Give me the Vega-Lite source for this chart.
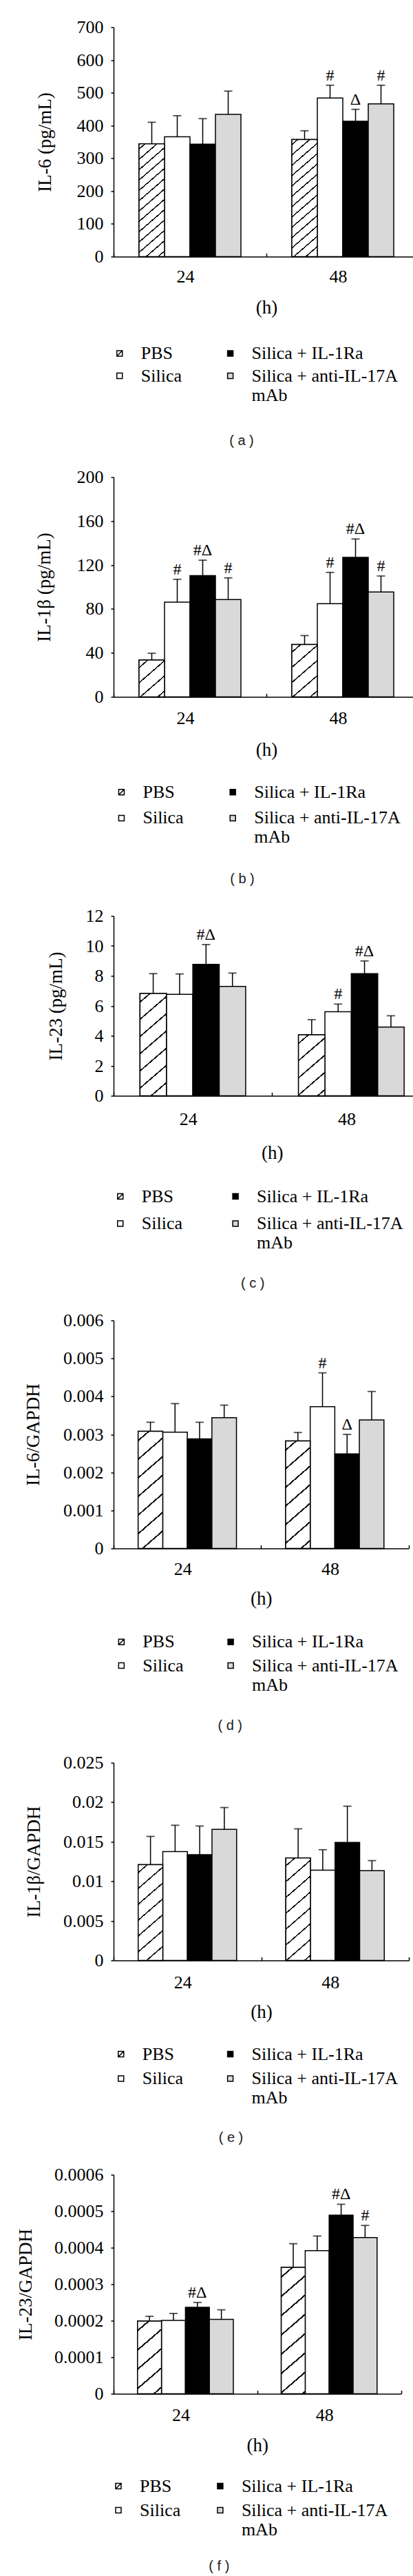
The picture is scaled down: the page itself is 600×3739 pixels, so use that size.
{
"$schema": "https://vega.github.io/schema/vega-lite/v6.json",
"background": "white",
"padding": {"left": 23, "top": 26.5, "right": 0, "bottom": 0},
"columns": 1,
"align": "none",
"spacing": 30,
"resolve": {"scale": {"x": "independent", "y": "independent", "xOffset": "independent", "fill": "independent"}, "legend": {"fill": "independent"}, "axis": {"x": "independent", "y": "independent"}},
"config": {
  "view": {"stroke": null},
  "axis": {"labelFont": "Liberation Serif", "labelFontSize": 26, "labelColor": "#000", "titleFont": "Liberation Serif", "titleFontSize": 27, "titleFontWeight": "normal", "titleColor": "#000", "domainColor": "#000", "domainWidth": 1.5, "tickColor": "#000", "tickWidth": 1.5, "grid": false},
  "axisX": {"labelAngle": 0, "tickSize": -5, "tickBand": "extent", "labelOffset": -7, "titleBaseline": "middle"},
  "axisY": {"tickSize": 4, "labelPadding": 11, "titleAngle": -90, "titleBaseline": "middle", "titleAlign": "center"},
  "legend": {"orient": "none", "columns": 2, "symbolType": "square", "symbolSize": 64, "symbolStrokeColor": "#000", "symbolStrokeWidth": 1.5, "labelFont": "Liberation Serif", "labelFontSize": 26, "labelColor": "#000", "labelOffset": 18, "labelLimit": 400, "padding": 0, "labelBaseline": "middle"},
  "title": {"font": "Liberation Sans", "fontSize": 20, "fontWeight": "normal", "color": "#222", "orient": "bottom", "anchor": "middle", "frame": "group"}
},
"datasets": {
  "a": [
    {"time":"24","group":"PBS","mean":344,"err":410,"sig":""},
    {"time":"24","group":"Silica","mean":366,"err":430,"sig":""},
    {"time":"24","group":"Silica + IL-1Ra","mean":343,"err":421,"sig":""},
    {"time":"24","group":"Silica + anti-IL-17A mAb","mean":434,"err":505,"sig":""},
    {"time":"48","group":"PBS","mean":357.5,"err":384,"sig":""},
    {"time":"48","group":"Silica","mean":484,"err":523,"sig":"#"},
    {"time":"48","group":"Silica + IL-1Ra","mean":413,"err":449.5,"sig":"Δ"},
    {"time":"48","group":"Silica + anti-IL-17A mAb","mean":466,"err":523,"sig":"#"}
  ],
  "b": [
    {"time":"24","group":"PBS","mean":33.5,"err":39.7,"sig":""},
    {"time":"24","group":"Silica","mean":86.2,"err":107,"sig":"#"},
    {"time":"24","group":"Silica + IL-1Ra","mean":110.3,"err":124.4,"sig":"#Δ"},
    {"time":"24","group":"Silica + anti-IL-17A mAb","mean":88.5,"err":108.3,"sig":"#"},
    {"time":"48","group":"PBS","mean":47.6,"err":55.8,"sig":""},
    {"time":"48","group":"Silica","mean":84.8,"err":113.3,"sig":"#"},
    {"time":"48","group":"Silica + IL-1Ra","mean":126.9,"err":143.7,"sig":"#Δ"},
    {"time":"48","group":"Silica + anti-IL-17A mAb","mean":95.4,"err":110,"sig":"#"}
  ],
  "c": [
    {"time":"24","group":"PBS","mean":6.83,"err":8.15,"sig":""},
    {"time":"24","group":"Silica","mean":6.77,"err":8.13,"sig":""},
    {"time":"24","group":"Silica + IL-1Ra","mean":8.77,"err":10.09,"sig":"#Δ"},
    {"time":"24","group":"Silica + anti-IL-17A mAb","mean":7.3,"err":8.19,"sig":""},
    {"time":"48","group":"PBS","mean":4.07,"err":5.08,"sig":""},
    {"time":"48","group":"Silica","mean":5.61,"err":6.12,"sig":"#"},
    {"time":"48","group":"Silica + IL-1Ra","mean":8.15,"err":9.0,"sig":"#Δ"},
    {"time":"48","group":"Silica + anti-IL-17A mAb","mean":4.59,"err":5.34,"sig":""}
  ],
  "d": [
    {"time":"24","group":"PBS","mean":0.00308,"err":0.00332,"sig":""},
    {"time":"24","group":"Silica","mean":0.00306,"err":0.00381,"sig":""},
    {"time":"24","group":"Silica + IL-1Ra","mean":0.00288,"err":0.00332,"sig":""},
    {"time":"24","group":"Silica + anti-IL-17A mAb","mean":0.00344,"err":0.00377,"sig":""},
    {"time":"48","group":"PBS","mean":0.00283,"err":0.00305,"sig":""},
    {"time":"48","group":"Silica","mean":0.00373,"err":0.00462,"sig":"#"},
    {"time":"48","group":"Silica + IL-1Ra","mean":0.00249,"err":0.003,"sig":"Δ"},
    {"time":"48","group":"Silica + anti-IL-17A mAb","mean":0.00338,"err":0.00413,"sig":""}
  ],
  "e": [
    {"time":"24","group":"PBS","mean":0.0121,"err":0.01568,"sig":""},
    {"time":"24","group":"Silica","mean":0.01376,"err":0.01709,"sig":""},
    {"time":"24","group":"Silica + IL-1Ra","mean":0.01338,"err":0.01699,"sig":""},
    {"time":"24","group":"Silica + anti-IL-17A mAb","mean":0.01657,"err":0.01933,"sig":""},
    {"time":"48","group":"PBS","mean":0.01296,"err":0.01664,"sig":""},
    {"time":"48","group":"Silica","mean":0.01142,"err":0.014,"sig":""},
    {"time":"48","group":"Silica + IL-1Ra","mean":0.01492,"err":0.0195,"sig":""},
    {"time":"48","group":"Silica + anti-IL-17A mAb","mean":0.01135,"err":0.01262,"sig":""}
  ],
  "f": [
    {"time":"24","group":"PBS","mean":0.000199,"err":0.000212,"sig":""},
    {"time":"24","group":"Silica","mean":0.000201,"err":0.00022,"sig":""},
    {"time":"24","group":"Silica + IL-1Ra","mean":0.000237,"err":0.00025,"sig":"#Δ"},
    {"time":"24","group":"Silica + anti-IL-17A mAb","mean":0.000204,"err":0.00023,"sig":""},
    {"time":"48","group":"PBS","mean":0.000346,"err":0.000411,"sig":""},
    {"time":"48","group":"Silica","mean":0.000392,"err":0.000432,"sig":""},
    {"time":"48","group":"Silica + IL-1Ra","mean":0.000489,"err":0.000519,"sig":"#Δ"},
    {"time":"48","group":"Silica + anti-IL-17A mAb","mean":0.000428,"err":0.000461,"sig":"#"}
  ]
},
"concat": [
{
  "width": 444, "height": 333,
  "data": {"name": "a"},
  "title": {"text": "( a )", "dx": -36, "offset": 42.5},
  "encoding": {
    "x": {"field": "time", "type": "nominal", "scale": {"domain": ["24","48"], "paddingInner": 0, "paddingOuter": 0}, "axis": {"title": "(h)", "titleY": 74, "labelPadding": 21.3}},
    "xOffset": {"field": "group", "type": "nominal", "scale": {"domain": ["PBS","Silica","Silica + IL-1Ra","Silica + anti-IL-17A mAb"], "paddingInner": 0, "paddingOuter": 1.47}},
    "y": {"field": "mean", "type": "quantitative", "scale": {"domain": [0,700], "nice": false}, "axis": {"title": "IL-6 (pg/mL)", "values": [0,100,200,300,400,500,600,700], "format": "~f", "titleX": -100}}
  },
  "layer": [
    {"mark": {"type": "bar", "stroke": "#000", "strokeWidth": 1.5},
     "encoding": {"fill": {"field": "group", "type": "nominal", "scale": {"domain": ["PBS","Silica","Silica + IL-1Ra","Silica + anti-IL-17A mAb"], "range": ["#fff","#fff","#000","#d9d9d9"]},
       "legend": {"title": null, "orient": "none", "legendX": -4.25, "legendY": 460.5, "columnPadding": 56.85, "rowPadding": 6.5,
         "labelExpr": "datum.label == 'Silica + anti-IL-17A mAb' ? ['Silica + anti-IL-17A', 'mAb'] : datum.label",
         "encode": {"symbols": {"update": {"shape": {"signal": "datum.value === 'PBS' ? 'M-1,-1H1V1H-1Z M-1,1L1,-1' : 'square'"}, "stroke": {"value": "#000"}}}}}}}},
    {"transform": [{"filter": "datum.group === 'PBS' && datum.time === '24'"}],
     "mark": {"type": "bar", "stroke": "#000", "strokeWidth": 1.5, "fill": {"gradient": "linear", "x1": 0, "y1": 0, "x2": 0.2418, "y2": 1.2363, "stops": [{"offset":0.0307,"color":"#fff"},{"offset":0.0307,"color":"#111"},{"offset":0.0407,"color":"#111"},{"offset":0.0407,"color":"#fff"},{"offset":0.1021,"color":"#fff"},{"offset":0.1021,"color":"#111"},{"offset":0.1121,"color":"#111"},{"offset":0.1121,"color":"#fff"},{"offset":0.1736,"color":"#fff"},{"offset":0.1736,"color":"#111"},{"offset":0.1836,"color":"#111"},{"offset":0.1836,"color":"#fff"},{"offset":0.245,"color":"#fff"},{"offset":0.245,"color":"#111"},{"offset":0.255,"color":"#111"},{"offset":0.255,"color":"#fff"},{"offset":0.3164,"color":"#fff"},{"offset":0.3164,"color":"#111"},{"offset":0.3264,"color":"#111"},{"offset":0.3264,"color":"#fff"},{"offset":0.3879,"color":"#fff"},{"offset":0.3879,"color":"#111"},{"offset":0.3979,"color":"#111"},{"offset":0.3979,"color":"#fff"},{"offset":0.4593,"color":"#fff"},{"offset":0.4593,"color":"#111"},{"offset":0.4693,"color":"#111"},{"offset":0.4693,"color":"#fff"},{"offset":0.5307,"color":"#fff"},{"offset":0.5307,"color":"#111"},{"offset":0.5407,"color":"#111"},{"offset":0.5407,"color":"#fff"},{"offset":0.6021,"color":"#fff"},{"offset":0.6021,"color":"#111"},{"offset":0.6121,"color":"#111"},{"offset":0.6121,"color":"#fff"},{"offset":0.6736,"color":"#fff"},{"offset":0.6736,"color":"#111"},{"offset":0.6836,"color":"#111"},{"offset":0.6836,"color":"#fff"},{"offset":0.745,"color":"#fff"},{"offset":0.745,"color":"#111"},{"offset":0.755,"color":"#111"},{"offset":0.755,"color":"#fff"},{"offset":0.8164,"color":"#fff"},{"offset":0.8164,"color":"#111"},{"offset":0.8264,"color":"#111"},{"offset":0.8264,"color":"#fff"},{"offset":0.8879,"color":"#fff"},{"offset":0.8879,"color":"#111"},{"offset":0.8979,"color":"#111"},{"offset":0.8979,"color":"#fff"},{"offset":0.9593,"color":"#fff"},{"offset":0.9593,"color":"#111"},{"offset":0.9693,"color":"#111"},{"offset":0.9693,"color":"#fff"}]}}},
    {"transform": [{"filter": "datum.group === 'PBS' && datum.time === '48'"}],
     "mark": {"type": "bar", "stroke": "#000", "strokeWidth": 1.5, "fill": {"gradient": "linear", "x1": 0, "y1": 0, "x2": 0.2243, "y2": 1.1924, "stops": [{"offset":0.0307,"color":"#fff"},{"offset":0.0307,"color":"#111"},{"offset":0.0407,"color":"#111"},{"offset":0.0407,"color":"#fff"},{"offset":0.1021,"color":"#fff"},{"offset":0.1021,"color":"#111"},{"offset":0.1121,"color":"#111"},{"offset":0.1121,"color":"#fff"},{"offset":0.1736,"color":"#fff"},{"offset":0.1736,"color":"#111"},{"offset":0.1836,"color":"#111"},{"offset":0.1836,"color":"#fff"},{"offset":0.245,"color":"#fff"},{"offset":0.245,"color":"#111"},{"offset":0.255,"color":"#111"},{"offset":0.255,"color":"#fff"},{"offset":0.3164,"color":"#fff"},{"offset":0.3164,"color":"#111"},{"offset":0.3264,"color":"#111"},{"offset":0.3264,"color":"#fff"},{"offset":0.3879,"color":"#fff"},{"offset":0.3879,"color":"#111"},{"offset":0.3979,"color":"#111"},{"offset":0.3979,"color":"#fff"},{"offset":0.4593,"color":"#fff"},{"offset":0.4593,"color":"#111"},{"offset":0.4693,"color":"#111"},{"offset":0.4693,"color":"#fff"},{"offset":0.5307,"color":"#fff"},{"offset":0.5307,"color":"#111"},{"offset":0.5407,"color":"#111"},{"offset":0.5407,"color":"#fff"},{"offset":0.6021,"color":"#fff"},{"offset":0.6021,"color":"#111"},{"offset":0.6121,"color":"#111"},{"offset":0.6121,"color":"#fff"},{"offset":0.6736,"color":"#fff"},{"offset":0.6736,"color":"#111"},{"offset":0.6836,"color":"#111"},{"offset":0.6836,"color":"#fff"},{"offset":0.745,"color":"#fff"},{"offset":0.745,"color":"#111"},{"offset":0.755,"color":"#111"},{"offset":0.755,"color":"#fff"},{"offset":0.8164,"color":"#fff"},{"offset":0.8164,"color":"#111"},{"offset":0.8264,"color":"#111"},{"offset":0.8264,"color":"#fff"},{"offset":0.8879,"color":"#fff"},{"offset":0.8879,"color":"#111"},{"offset":0.8979,"color":"#111"},{"offset":0.8979,"color":"#fff"},{"offset":0.9593,"color":"#fff"},{"offset":0.9593,"color":"#111"},{"offset":0.9693,"color":"#111"},{"offset":0.9693,"color":"#fff"}]}}},
    {"mark": {"type": "rule", "color": "#000", "strokeWidth": 1.5}, "encoding": {"y2": {"field": "err"}}},
    {"mark": {"type": "tick", "color": "#000", "size": 12, "thickness": 1.8}, "encoding": {"y": {"field": "err", "type": "quantitative"}}},
    {"transform": [{"filter": "datum.sig !== ''"}], "mark": {"type": "text", "font": "Liberation Serif", "fontSize": 24, "baseline": "alphabetic", "dy": -7, "color": "#000"}, "encoding": {"y": {"field": "err", "type": "quantitative"}, "text": {"field": "sig", "type": "nominal"}}}
  ]
},
{
  "width": 444, "height": 319,
  "data": {"name": "b"},
  "title": {"text": "( b )", "dx": -35, "offset": 36.8},
  "encoding": {
    "x": {"field": "time", "type": "nominal", "scale": {"domain": ["24","48"], "paddingInner": 0, "paddingOuter": 0}, "axis": {"title": "(h)", "titleY": 77, "labelPadding": 22.8}},
    "xOffset": {"field": "group", "type": "nominal", "scale": {"domain": ["PBS","Silica","Silica + IL-1Ra","Silica + anti-IL-17A mAb"], "paddingInner": 0, "paddingOuter": 1.47}},
    "y": {"field": "mean", "type": "quantitative", "scale": {"domain": [0,200], "nice": false}, "axis": {"title": "IL-1β (pg/mL)", "values": [0,40,80,120,160,200], "format": "~f", "titleX": -101}}
  },
  "layer": [
    {"mark": {"type": "bar", "stroke": "#000", "strokeWidth": 1.5},
     "encoding": {"fill": {"field": "group", "type": "nominal", "scale": {"domain": ["PBS","Silica","Silica + IL-1Ra","Silica + anti-IL-17A mAb"], "range": ["#fff","#fff","#000","#d9d9d9"]},
       "legend": {"title": null, "orient": "none", "legendX": -1.55, "legendY": 444.3, "columnPadding": 57.75, "rowPadding": 11.6,
         "labelExpr": "datum.label == 'Silica + anti-IL-17A mAb' ? ['Silica + anti-IL-17A', 'mAb'] : datum.label",
         "encode": {"symbols": {"update": {"shape": {"signal": "datum.value === 'PBS' ? 'M-1,-1H1V1H-1Z M-1,1L1,-1' : 'square'"}, "stroke": {"value": "#000"}}}}}}}},
    {"transform": [{"filter": "datum.group === 'PBS' && datum.time === '24'"}],
     "mark": {"type": "bar", "stroke": "#000", "strokeWidth": 1.5, "fill": {"gradient": "linear", "x1": 0, "y1": 0, "x2": 0.9083, "y2": 1.5156, "stops": [{"offset":0.09,"color":"#fff"},{"offset":0.09,"color":"#111"},{"offset":0.11,"color":"#111"},{"offset":0.11,"color":"#fff"},{"offset":0.29,"color":"#fff"},{"offset":0.29,"color":"#111"},{"offset":0.31,"color":"#111"},{"offset":0.31,"color":"#fff"},{"offset":0.49,"color":"#fff"},{"offset":0.49,"color":"#111"},{"offset":0.51,"color":"#111"},{"offset":0.51,"color":"#fff"},{"offset":0.69,"color":"#fff"},{"offset":0.69,"color":"#111"},{"offset":0.71,"color":"#111"},{"offset":0.71,"color":"#fff"},{"offset":0.89,"color":"#fff"},{"offset":0.89,"color":"#111"},{"offset":0.91,"color":"#111"},{"offset":0.91,"color":"#fff"}]}}},
    {"transform": [{"filter": "datum.group === 'PBS' && datum.time === '48'"}],
     "mark": {"type": "bar", "stroke": "#000", "strokeWidth": 1.5, "fill": {"gradient": "linear", "x1": 0, "y1": 0, "x2": 0.5188, "y2": 1.2305, "stops": [{"offset":0.09,"color":"#fff"},{"offset":0.09,"color":"#111"},{"offset":0.11,"color":"#111"},{"offset":0.11,"color":"#fff"},{"offset":0.29,"color":"#fff"},{"offset":0.29,"color":"#111"},{"offset":0.31,"color":"#111"},{"offset":0.31,"color":"#fff"},{"offset":0.49,"color":"#fff"},{"offset":0.49,"color":"#111"},{"offset":0.51,"color":"#111"},{"offset":0.51,"color":"#fff"},{"offset":0.69,"color":"#fff"},{"offset":0.69,"color":"#111"},{"offset":0.71,"color":"#111"},{"offset":0.71,"color":"#fff"},{"offset":0.89,"color":"#fff"},{"offset":0.89,"color":"#111"},{"offset":0.91,"color":"#111"},{"offset":0.91,"color":"#fff"}]}}},
    {"mark": {"type": "rule", "color": "#000", "strokeWidth": 1.5}, "encoding": {"y2": {"field": "err"}}},
    {"mark": {"type": "tick", "color": "#000", "size": 12, "thickness": 1.8}, "encoding": {"y": {"field": "err", "type": "quantitative"}}},
    {"transform": [{"filter": "datum.sig !== ''"}], "mark": {"type": "text", "font": "Liberation Serif", "fontSize": 24, "baseline": "alphabetic", "dy": -7, "color": "#000"}, "encoding": {"y": {"field": "err", "type": "quantitative"}, "text": {"field": "sig", "type": "nominal"}}}
  ]
},
{
  "width": 460.5, "height": 261,
  "data": {"name": "c"},
  "title": {"text": "( c )", "dx": -28, "offset": 35.7},
  "encoding": {
    "x": {"field": "time", "type": "nominal", "scale": {"domain": ["24","48"], "paddingInner": 0, "paddingOuter": 0}, "axis": {"title": "(h)", "titleY": 83, "labelPadding": 26.2}},
    "xOffset": {"field": "group", "type": "nominal", "scale": {"domain": ["PBS","Silica","Silica + IL-1Ra","Silica + anti-IL-17A mAb"], "paddingInner": 0, "paddingOuter": 1.49}},
    "y": {"field": "mean", "type": "quantitative", "scale": {"domain": [0,12], "nice": false}, "axis": {"title": "IL-23 (pg/mL)", "values": [0,2,4,6,8,10,12], "format": "~f", "titleX": -83.5}}
  },
  "layer": [
    {"mark": {"type": "bar", "stroke": "#000", "strokeWidth": 1.5},
     "encoding": {"fill": {"field": "group", "type": "nominal", "scale": {"domain": ["PBS","Silica","Silica + IL-1Ra","Silica + anti-IL-17A mAb"], "range": ["#fff","#fff","#000","#d9d9d9"]},
       "legend": {"title": null, "orient": "none", "legendX": -3.25, "legendY": 394, "columnPadding": 63.35, "rowPadding": 13.5,
         "labelExpr": "datum.label == 'Silica + anti-IL-17A mAb' ? ['Silica + anti-IL-17A', 'mAb'] : datum.label",
         "encode": {"symbols": {"update": {"shape": {"signal": "datum.value === 'PBS' ? 'M-1,-1H1V1H-1Z M-1,1L1,-1' : 'square'"}, "stroke": {"value": "#000"}}}}}}}},
    {"transform": [{"filter": "datum.group === 'PBS' && datum.time === '24'"}],
     "mark": {"type": "bar", "stroke": "#000", "strokeWidth": 1.5, "fill": {"gradient": "linear", "x1": 0, "y1": 0, "x2": 0.2848, "y2": 1.2826, "stops": [{"offset":0.0565,"color":"#fff"},{"offset":0.0565,"color":"#111"},{"offset":0.0685,"color":"#111"},{"offset":0.0685,"color":"#fff"},{"offset":0.1815,"color":"#fff"},{"offset":0.1815,"color":"#111"},{"offset":0.1935,"color":"#111"},{"offset":0.1935,"color":"#fff"},{"offset":0.3065,"color":"#fff"},{"offset":0.3065,"color":"#111"},{"offset":0.3185,"color":"#111"},{"offset":0.3185,"color":"#fff"},{"offset":0.4315,"color":"#fff"},{"offset":0.4315,"color":"#111"},{"offset":0.4435,"color":"#111"},{"offset":0.4435,"color":"#fff"},{"offset":0.5565,"color":"#fff"},{"offset":0.5565,"color":"#111"},{"offset":0.5685,"color":"#111"},{"offset":0.5685,"color":"#fff"},{"offset":0.6815,"color":"#fff"},{"offset":0.6815,"color":"#111"},{"offset":0.6935,"color":"#111"},{"offset":0.6935,"color":"#fff"},{"offset":0.8065,"color":"#fff"},{"offset":0.8065,"color":"#111"},{"offset":0.8185,"color":"#111"},{"offset":0.8185,"color":"#fff"},{"offset":0.9315,"color":"#fff"},{"offset":0.9315,"color":"#111"},{"offset":0.9435,"color":"#111"},{"offset":0.9435,"color":"#fff"}]}}},
    {"transform": [{"filter": "datum.group === 'PBS' && datum.time === '48'"}],
     "mark": {"type": "bar", "stroke": "#000", "strokeWidth": 1.5, "fill": {"gradient": "linear", "x1": 0, "y1": 0, "x2": 0.7398, "y2": 1.9841, "stops": [{"offset":0.0565,"color":"#fff"},{"offset":0.0565,"color":"#111"},{"offset":0.0685,"color":"#111"},{"offset":0.0685,"color":"#fff"},{"offset":0.1815,"color":"#fff"},{"offset":0.1815,"color":"#111"},{"offset":0.1935,"color":"#111"},{"offset":0.1935,"color":"#fff"},{"offset":0.3065,"color":"#fff"},{"offset":0.3065,"color":"#111"},{"offset":0.3185,"color":"#111"},{"offset":0.3185,"color":"#fff"},{"offset":0.4315,"color":"#fff"},{"offset":0.4315,"color":"#111"},{"offset":0.4435,"color":"#111"},{"offset":0.4435,"color":"#fff"},{"offset":0.5565,"color":"#fff"},{"offset":0.5565,"color":"#111"},{"offset":0.5685,"color":"#111"},{"offset":0.5685,"color":"#fff"},{"offset":0.6815,"color":"#fff"},{"offset":0.6815,"color":"#111"},{"offset":0.6935,"color":"#111"},{"offset":0.6935,"color":"#fff"},{"offset":0.8065,"color":"#fff"},{"offset":0.8065,"color":"#111"},{"offset":0.8185,"color":"#111"},{"offset":0.8185,"color":"#fff"},{"offset":0.9315,"color":"#fff"},{"offset":0.9315,"color":"#111"},{"offset":0.9435,"color":"#111"},{"offset":0.9435,"color":"#fff"}]}}},
    {"mark": {"type": "rule", "color": "#000", "strokeWidth": 1.5}, "encoding": {"y2": {"field": "err"}}},
    {"mark": {"type": "tick", "color": "#000", "size": 12, "thickness": 1.8}, "encoding": {"y": {"field": "err", "type": "quantitative"}}},
    {"transform": [{"filter": "datum.sig !== ''"}], "mark": {"type": "text", "font": "Liberation Serif", "fontSize": 24, "baseline": "alphabetic", "dy": -7, "color": "#000"}, "encoding": {"y": {"field": "err", "type": "quantitative"}, "text": {"field": "sig", "type": "nominal"}}}
  ]
},
{
  "width": 428.5, "height": 331,
  "data": {"name": "d"},
  "title": {"text": "( d )", "dx": -45, "offset": 35.9},
  "encoding": {
    "x": {"field": "time", "type": "nominal", "scale": {"domain": ["24","48"], "paddingInner": 0, "paddingOuter": 0}, "axis": {"title": "(h)", "titleY": 72.5, "labelPadding": 21.8}},
    "xOffset": {"field": "group", "type": "nominal", "scale": {"domain": ["PBS","Silica","Silica + IL-1Ra","Silica + anti-IL-17A mAb"], "paddingInner": 0, "paddingOuter": 1.456}},
    "y": {"field": "mean", "type": "quantitative", "scale": {"domain": [0,0.006], "nice": false}, "axis": {"title": "IL-6/GAPDH", "values": [0,0.001,0.002,0.003,0.004,0.005,0.006], "format": "~f", "titleX": -116.5}}
  },
  "layer": [
    {"mark": {"type": "bar", "stroke": "#000", "strokeWidth": 1.5},
     "encoding": {"fill": {"field": "group", "type": "nominal", "scale": {"domain": ["PBS","Silica","Silica + IL-1Ra","Silica + anti-IL-17A mAb"], "range": ["#fff","#fff","#000","#d9d9d9"]},
       "legend": {"title": null, "orient": "none", "legendX": -1.65, "legendY": 453.7, "columnPadding": 54.75, "rowPadding": 8.3,
         "labelExpr": "datum.label == 'Silica + anti-IL-17A mAb' ? ['Silica + anti-IL-17A', 'mAb'] : datum.label",
         "encode": {"symbols": {"update": {"shape": {"signal": "datum.value === 'PBS' ? 'M-1,-1H1V1H-1Z M-1,1L1,-1' : 'square'"}, "stroke": {"value": "#000"}}}}}}}},
    {"transform": [{"filter": "datum.group === 'PBS' && datum.time === '24'"}],
     "mark": {"type": "bar", "stroke": "#000", "strokeWidth": 1.5, "fill": {"gradient": "linear", "x1": 0, "y1": 0, "x2": 0.2245, "y2": 1.2304, "stops": [{"offset":0.0565,"color":"#fff"},{"offset":0.0565,"color":"#111"},{"offset":0.0685,"color":"#111"},{"offset":0.0685,"color":"#fff"},{"offset":0.1815,"color":"#fff"},{"offset":0.1815,"color":"#111"},{"offset":0.1935,"color":"#111"},{"offset":0.1935,"color":"#fff"},{"offset":0.3065,"color":"#fff"},{"offset":0.3065,"color":"#111"},{"offset":0.3185,"color":"#111"},{"offset":0.3185,"color":"#fff"},{"offset":0.4315,"color":"#fff"},{"offset":0.4315,"color":"#111"},{"offset":0.4435,"color":"#111"},{"offset":0.4435,"color":"#fff"},{"offset":0.5565,"color":"#fff"},{"offset":0.5565,"color":"#111"},{"offset":0.5685,"color":"#111"},{"offset":0.5685,"color":"#fff"},{"offset":0.6815,"color":"#fff"},{"offset":0.6815,"color":"#111"},{"offset":0.6935,"color":"#111"},{"offset":0.6935,"color":"#fff"},{"offset":0.8065,"color":"#fff"},{"offset":0.8065,"color":"#111"},{"offset":0.8185,"color":"#111"},{"offset":0.8185,"color":"#fff"},{"offset":0.9315,"color":"#fff"},{"offset":0.9315,"color":"#111"},{"offset":0.9435,"color":"#111"},{"offset":0.9435,"color":"#fff"}]}}},
    {"transform": [{"filter": "datum.group === 'PBS' && datum.time === '48'"}],
     "mark": {"type": "bar", "stroke": "#000", "strokeWidth": 1.5, "fill": {"gradient": "linear", "x1": 0, "y1": 0, "x2": 0.2644, "y2": 1.3312, "stops": [{"offset":0.0565,"color":"#fff"},{"offset":0.0565,"color":"#111"},{"offset":0.0685,"color":"#111"},{"offset":0.0685,"color":"#fff"},{"offset":0.1815,"color":"#fff"},{"offset":0.1815,"color":"#111"},{"offset":0.1935,"color":"#111"},{"offset":0.1935,"color":"#fff"},{"offset":0.3065,"color":"#fff"},{"offset":0.3065,"color":"#111"},{"offset":0.3185,"color":"#111"},{"offset":0.3185,"color":"#fff"},{"offset":0.4315,"color":"#fff"},{"offset":0.4315,"color":"#111"},{"offset":0.4435,"color":"#111"},{"offset":0.4435,"color":"#fff"},{"offset":0.5565,"color":"#fff"},{"offset":0.5565,"color":"#111"},{"offset":0.5685,"color":"#111"},{"offset":0.5685,"color":"#fff"},{"offset":0.6815,"color":"#fff"},{"offset":0.6815,"color":"#111"},{"offset":0.6935,"color":"#111"},{"offset":0.6935,"color":"#fff"},{"offset":0.8065,"color":"#fff"},{"offset":0.8065,"color":"#111"},{"offset":0.8185,"color":"#111"},{"offset":0.8185,"color":"#fff"},{"offset":0.9315,"color":"#fff"},{"offset":0.9315,"color":"#111"},{"offset":0.9435,"color":"#111"},{"offset":0.9435,"color":"#fff"}]}}},
    {"mark": {"type": "rule", "color": "#000", "strokeWidth": 1.5}, "encoding": {"y2": {"field": "err"}}},
    {"mark": {"type": "tick", "color": "#000", "size": 12, "thickness": 1.8}, "encoding": {"y": {"field": "err", "type": "quantitative"}}},
    {"transform": [{"filter": "datum.sig !== ''"}], "mark": {"type": "text", "font": "Liberation Serif", "fontSize": 24, "baseline": "alphabetic", "dy": -7, "color": "#000"}, "encoding": {"y": {"field": "err", "type": "quantitative"}, "text": {"field": "sig", "type": "nominal"}}}
  ]
},
{
  "width": 429, "height": 287,
  "data": {"name": "e"},
  "title": {"text": "( e )", "dx": -44, "offset": 34.6},
  "encoding": {
    "x": {"field": "time", "type": "nominal", "scale": {"domain": ["24","48"], "paddingInner": 0, "paddingOuter": 0}, "axis": {"title": "(h)", "titleY": 74.7, "labelPadding": 23.8}},
    "xOffset": {"field": "group", "type": "nominal", "scale": {"domain": ["PBS","Silica","Silica + IL-1Ra","Silica + anti-IL-17A mAb"], "paddingInner": 0, "paddingOuter": 1.46}},
    "y": {"field": "mean", "type": "quantitative", "scale": {"domain": [0,0.025], "nice": false}, "axis": {"title": "IL-1β/GAPDH", "values": [0,0.005,0.01,0.015,0.02,0.025], "format": "~f", "titleX": -116}}
  },
  "layer": [
    {"mark": {"type": "bar", "stroke": "#000", "strokeWidth": 1.5},
     "encoding": {"fill": {"field": "group", "type": "nominal", "scale": {"domain": ["PBS","Silica","Silica + IL-1Ra","Silica + anti-IL-17A mAb"], "range": ["#fff","#fff","#000","#d9d9d9"]},
       "legend": {"title": null, "orient": "none", "legendX": -2.25, "legendY": 410, "columnPadding": 54.85, "rowPadding": 9.6,
         "labelExpr": "datum.label == 'Silica + anti-IL-17A mAb' ? ['Silica + anti-IL-17A', 'mAb'] : datum.label",
         "encode": {"symbols": {"update": {"shape": {"signal": "datum.value === 'PBS' ? 'M-1,-1H1V1H-1Z M-1,1L1,-1' : 'square'"}, "stroke": {"value": "#000"}}}}}}}},
    {"transform": [{"filter": "datum.group === 'PBS' && datum.time === '24'"}],
     "mark": {"type": "bar", "stroke": "#000", "strokeWidth": 1.5, "fill": {"gradient": "linear", "x1": 0, "y1": 0, "x2": 0.2816, "y2": 1.2619, "stops": [{"offset":0.0565,"color":"#fff"},{"offset":0.0565,"color":"#111"},{"offset":0.0685,"color":"#111"},{"offset":0.0685,"color":"#fff"},{"offset":0.1815,"color":"#fff"},{"offset":0.1815,"color":"#111"},{"offset":0.1935,"color":"#111"},{"offset":0.1935,"color":"#fff"},{"offset":0.3065,"color":"#fff"},{"offset":0.3065,"color":"#111"},{"offset":0.3185,"color":"#111"},{"offset":0.3185,"color":"#fff"},{"offset":0.4315,"color":"#fff"},{"offset":0.4315,"color":"#111"},{"offset":0.4435,"color":"#111"},{"offset":0.4435,"color":"#fff"},{"offset":0.5565,"color":"#fff"},{"offset":0.5565,"color":"#111"},{"offset":0.5685,"color":"#111"},{"offset":0.5685,"color":"#fff"},{"offset":0.6815,"color":"#fff"},{"offset":0.6815,"color":"#111"},{"offset":0.6935,"color":"#111"},{"offset":0.6935,"color":"#fff"},{"offset":0.8065,"color":"#fff"},{"offset":0.8065,"color":"#111"},{"offset":0.8185,"color":"#111"},{"offset":0.8185,"color":"#fff"},{"offset":0.9315,"color":"#fff"},{"offset":0.9315,"color":"#111"},{"offset":0.9435,"color":"#111"},{"offset":0.9435,"color":"#fff"}]}}},
    {"transform": [{"filter": "datum.group === 'PBS' && datum.time === '48'"}],
     "mark": {"type": "bar", "stroke": "#000", "strokeWidth": 1.5, "fill": {"gradient": "linear", "x1": 0, "y1": 0, "x2": 0.2469, "y2": 1.1851, "stops": [{"offset":0.0565,"color":"#fff"},{"offset":0.0565,"color":"#111"},{"offset":0.0685,"color":"#111"},{"offset":0.0685,"color":"#fff"},{"offset":0.1815,"color":"#fff"},{"offset":0.1815,"color":"#111"},{"offset":0.1935,"color":"#111"},{"offset":0.1935,"color":"#fff"},{"offset":0.3065,"color":"#fff"},{"offset":0.3065,"color":"#111"},{"offset":0.3185,"color":"#111"},{"offset":0.3185,"color":"#fff"},{"offset":0.4315,"color":"#fff"},{"offset":0.4315,"color":"#111"},{"offset":0.4435,"color":"#111"},{"offset":0.4435,"color":"#fff"},{"offset":0.5565,"color":"#fff"},{"offset":0.5565,"color":"#111"},{"offset":0.5685,"color":"#111"},{"offset":0.5685,"color":"#fff"},{"offset":0.6815,"color":"#fff"},{"offset":0.6815,"color":"#111"},{"offset":0.6935,"color":"#111"},{"offset":0.6935,"color":"#fff"},{"offset":0.8065,"color":"#fff"},{"offset":0.8065,"color":"#111"},{"offset":0.8185,"color":"#111"},{"offset":0.8185,"color":"#fff"},{"offset":0.9315,"color":"#fff"},{"offset":0.9315,"color":"#111"},{"offset":0.9435,"color":"#111"},{"offset":0.9435,"color":"#fff"}]}}},
    {"mark": {"type": "rule", "color": "#000", "strokeWidth": 1.5}, "encoding": {"y2": {"field": "err"}}},
    {"mark": {"type": "tick", "color": "#000", "size": 12, "thickness": 1.8}, "encoding": {"y": {"field": "err", "type": "quantitative"}}}
  ]
},
{
  "width": 417.6, "height": 318,
  "data": {"name": "f"},
  "title": {"text": "( f )", "dx": -55.5, "offset": 30},
  "encoding": {
    "x": {"field": "time", "type": "nominal", "scale": {"domain": ["24","48"], "paddingInner": 0, "paddingOuter": 0}, "axis": {"title": "(h)", "titleY": 75, "labelPadding": 22.8}},
    "xOffset": {"field": "group", "type": "nominal", "scale": {"domain": ["PBS","Silica","Silica + IL-1Ra","Silica + anti-IL-17A mAb"], "paddingInner": 0, "paddingOuter": 1.48}},
    "y": {"field": "mean", "type": "quantitative", "scale": {"domain": [0,0.0006], "nice": false}, "axis": {"title": "IL-23/GAPDH", "values": [0,0.0001,0.0002,0.0003,0.0004,0.0005,0.0006], "format": "~f", "titleX": -128}}
  },
  "layer": [
    {"mark": {"type": "bar", "stroke": "#000", "strokeWidth": 1.5},
     "encoding": {"fill": {"field": "group", "type": "nominal", "scale": {"domain": ["PBS","Silica","Silica + IL-1Ra","Silica + anti-IL-17A mAb"], "range": ["#fff","#fff","#000","#d9d9d9"]},
       "legend": {"title": null, "orient": "none", "legendX": -6, "legendY": 439, "columnPadding": 43.9, "rowPadding": 9,
         "labelExpr": "datum.label == 'Silica + anti-IL-17A mAb' ? ['Silica + anti-IL-17A', 'mAb'] : datum.label",
         "encode": {"symbols": {"update": {"shape": {"signal": "datum.value === 'PBS' ? 'M-1,-1H1V1H-1Z M-1,1L1,-1' : 'square'"}, "stroke": {"value": "#000"}}}}}}}},
    {"transform": [{"filter": "datum.group === 'PBS' && datum.time === '24'"}],
     "mark": {"type": "bar", "stroke": "#000", "strokeWidth": 1.5, "fill": {"gradient": "linear", "x1": 0, "y1": 0, "x2": 0.5586, "y2": 1.9644, "stops": [{"offset":0.0565,"color":"#fff"},{"offset":0.0565,"color":"#111"},{"offset":0.0685,"color":"#111"},{"offset":0.0685,"color":"#fff"},{"offset":0.1815,"color":"#fff"},{"offset":0.1815,"color":"#111"},{"offset":0.1935,"color":"#111"},{"offset":0.1935,"color":"#fff"},{"offset":0.3065,"color":"#fff"},{"offset":0.3065,"color":"#111"},{"offset":0.3185,"color":"#111"},{"offset":0.3185,"color":"#fff"},{"offset":0.4315,"color":"#fff"},{"offset":0.4315,"color":"#111"},{"offset":0.4435,"color":"#111"},{"offset":0.4435,"color":"#fff"},{"offset":0.5565,"color":"#fff"},{"offset":0.5565,"color":"#111"},{"offset":0.5685,"color":"#111"},{"offset":0.5685,"color":"#fff"},{"offset":0.6815,"color":"#fff"},{"offset":0.6815,"color":"#111"},{"offset":0.6935,"color":"#111"},{"offset":0.6935,"color":"#fff"},{"offset":0.8065,"color":"#fff"},{"offset":0.8065,"color":"#111"},{"offset":0.8185,"color":"#111"},{"offset":0.8185,"color":"#fff"},{"offset":0.9315,"color":"#fff"},{"offset":0.9315,"color":"#111"},{"offset":0.9435,"color":"#111"},{"offset":0.9435,"color":"#fff"}]}}},
    {"transform": [{"filter": "datum.group === 'PBS' && datum.time === '48'"}],
     "mark": {"type": "bar", "stroke": "#000", "strokeWidth": 1.5, "fill": {"gradient": "linear", "x1": 0, "y1": 0, "x2": 0.1946, "y2": 1.1895, "stops": [{"offset":0.0565,"color":"#fff"},{"offset":0.0565,"color":"#111"},{"offset":0.0685,"color":"#111"},{"offset":0.0685,"color":"#fff"},{"offset":0.1815,"color":"#fff"},{"offset":0.1815,"color":"#111"},{"offset":0.1935,"color":"#111"},{"offset":0.1935,"color":"#fff"},{"offset":0.3065,"color":"#fff"},{"offset":0.3065,"color":"#111"},{"offset":0.3185,"color":"#111"},{"offset":0.3185,"color":"#fff"},{"offset":0.4315,"color":"#fff"},{"offset":0.4315,"color":"#111"},{"offset":0.4435,"color":"#111"},{"offset":0.4435,"color":"#fff"},{"offset":0.5565,"color":"#fff"},{"offset":0.5565,"color":"#111"},{"offset":0.5685,"color":"#111"},{"offset":0.5685,"color":"#fff"},{"offset":0.6815,"color":"#fff"},{"offset":0.6815,"color":"#111"},{"offset":0.6935,"color":"#111"},{"offset":0.6935,"color":"#fff"},{"offset":0.8065,"color":"#fff"},{"offset":0.8065,"color":"#111"},{"offset":0.8185,"color":"#111"},{"offset":0.8185,"color":"#fff"},{"offset":0.9315,"color":"#fff"},{"offset":0.9315,"color":"#111"},{"offset":0.9435,"color":"#111"},{"offset":0.9435,"color":"#fff"}]}}},
    {"mark": {"type": "rule", "color": "#000", "strokeWidth": 1.5}, "encoding": {"y2": {"field": "err"}}},
    {"mark": {"type": "tick", "color": "#000", "size": 12, "thickness": 1.8}, "encoding": {"y": {"field": "err", "type": "quantitative"}}},
    {"transform": [{"filter": "datum.sig !== ''"}], "mark": {"type": "text", "font": "Liberation Serif", "fontSize": 24, "baseline": "alphabetic", "dy": -7, "color": "#000"}, "encoding": {"y": {"field": "err", "type": "quantitative"}, "text": {"field": "sig", "type": "nominal"}}}
  ]
}
]
}
